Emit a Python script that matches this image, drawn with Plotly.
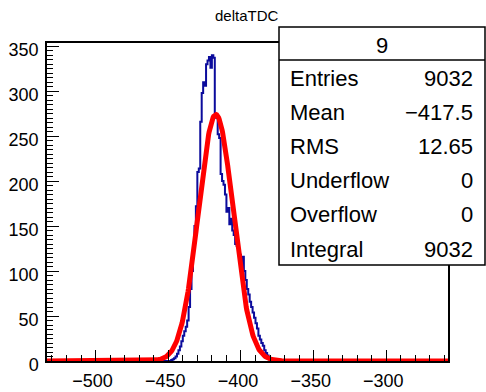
import numpy as np
import plotly.graph_objects as go

# deltaTDC histogram: 1-unit bins, lower edge of the first filled bin
first_edge = -448
bin_width = 1
counts = [
    1, 2, 3, 5, 8, 12, 16, 22, 28, 33,
    38, 45, 60, 80, 100, 125, 150, 172, 210, 214,
    266, 298, 310, 306, 330, 334, 338, 326, 340, 337,
    274, 270, 252, 248, 208, 200, 196, 185, 166, 170,
    152, 158, 145, 140, 130, 128, 122, 118, 108, 116,
    100, 90, 80, 74, 66, 60, 54, 48, 42, 36,
    28, 24, 20, 17, 12, 9, 6, 4, 2, 1,
]

# Gaussian fit parameters
fit_amp = 274.0
fit_mean = -417.3
fit_sigma = 12.0

# Axis ranges
x_min, x_max = -533.4, -257.6
y_min, y_max = 0.0, 353.5

# Statistics box contents
stats_title = "9"
stats_labels = ["Entries", "Mean", "RMS", "Underflow", "Overflow", "Integral"]
stats_values = ["9032", "\u2212417.5", "12.65", "0", "0", "9032"]

W, H = 486, 392
L, R, T, B = 47, 38, 43, 31
plot_w, plot_h = W - L - R, H - T - B


def px(x):
    return (x - L) / plot_w


def py(y):
    return (H - B - y) / plot_h


edges = [first_edge + i * bin_width for i in range(len(counts))]
hx = [x_min] + edges + [edges[-1] + bin_width, x_max]
hy = [0] + counts + [0, 0]

fx = np.linspace(x_min, x_max, 800)
fy = fit_amp * np.exp(-0.5 * ((fx - fit_mean) / fit_sigma) ** 2)

fig = go.Figure()
fig.add_trace(go.Scatter(
    x=hx, y=hy, mode="lines", line=dict(shape="hv", color="#0b0b9c", width=2),
    hoverinfo="skip", showlegend=False,
))
fig.add_trace(go.Scatter(
    x=fx, y=fy, mode="lines", line=dict(color="#ff0000", width=5),
    hoverinfo="skip", showlegend=False,
))

font = dict(family="Liberation Sans, Arial, sans-serif", color="black")

fig.update_layout(
    width=W, height=H,
    margin=dict(l=L, r=R, t=T, b=B, pad=0, autoexpand=False),
    paper_bgcolor="white", plot_bgcolor="white",
    font=dict(**font, size=18),
    showlegend=False,
)
fig.update_xaxes(
    range=[x_min, x_max], showgrid=False, zeroline=False, automargin=False,
    showline=True, linecolor="black", linewidth=1.5, mirror=True,
    ticks="inside", ticklen=11, tickwidth=1, tickcolor="black",
    tick0=-500, dtick=50,
    minor=dict(ticks="inside", ticklen=6, dtick=10, tickcolor="black", tickwidth=1),
    tickfont=dict(**font, size=18), ticklabelstandoff=3, ticklabelshift=-3,
)
fig.update_yaxes(
    range=[y_min, y_max], showgrid=False, zeroline=False, automargin=False,
    showline=True, linecolor="black", linewidth=1.5, mirror=True,
    ticks="inside", ticklen=12, tickwidth=1, tickcolor="black",
    tick0=0, dtick=50,
    minor=dict(ticks="inside", ticklen=6, dtick=5, tickcolor="black", tickwidth=1),
    tickfont=dict(**font, size=18), ticklabelstandoff=3, ticklabelshift=4,
)

# Histogram title
annotations = [dict(
    text="deltaTDC", xref="paper", yref="paper", x=px(247), y=py(15),
    xanchor="center", yanchor="middle", showarrow=False,
    font=dict(**font, size=15),
)]

# Statistics box
box_l, box_r, box_t, box_b, box_div = 279, 485, 27, 265, 60
shapes = [
    dict(type="rect", xref="paper", yref="paper",
         x0=px(box_l), x1=px(box_r), y0=py(box_b), y1=py(box_t),
         fillcolor="white", line=dict(color="black", width=1.5), layer="above"),
    dict(type="line", xref="paper", yref="paper",
         x0=px(box_l), x1=px(box_r), y0=py(box_div), y1=py(box_div),
         line=dict(color="black", width=1.5), layer="above"),
]
annotations.append(dict(
    text=stats_title, xref="paper", yref="paper", x=px((box_l + box_r) / 2), y=py(45),
    xanchor="center", yanchor="middle", showarrow=False, font=dict(**font, size=22),
))
row_y0, row_step = 78, 34.2
for i, (lab, val) in enumerate(zip(stats_labels, stats_values)):
    yy = py(row_y0 + i * row_step)
    annotations.append(dict(
        text=lab, xref="paper", yref="paper", x=px(288), y=yy,
        xanchor="left", yanchor="middle", showarrow=False, font=dict(**font, size=22),
    ))
    annotations.append(dict(
        text=val, xref="paper", yref="paper", x=px(475), y=yy,
        xanchor="right", yanchor="middle", showarrow=False, font=dict(**font, size=22),
    ))

fig.update_layout(shapes=shapes, annotations=annotations)
fig.write_html("out.html")
